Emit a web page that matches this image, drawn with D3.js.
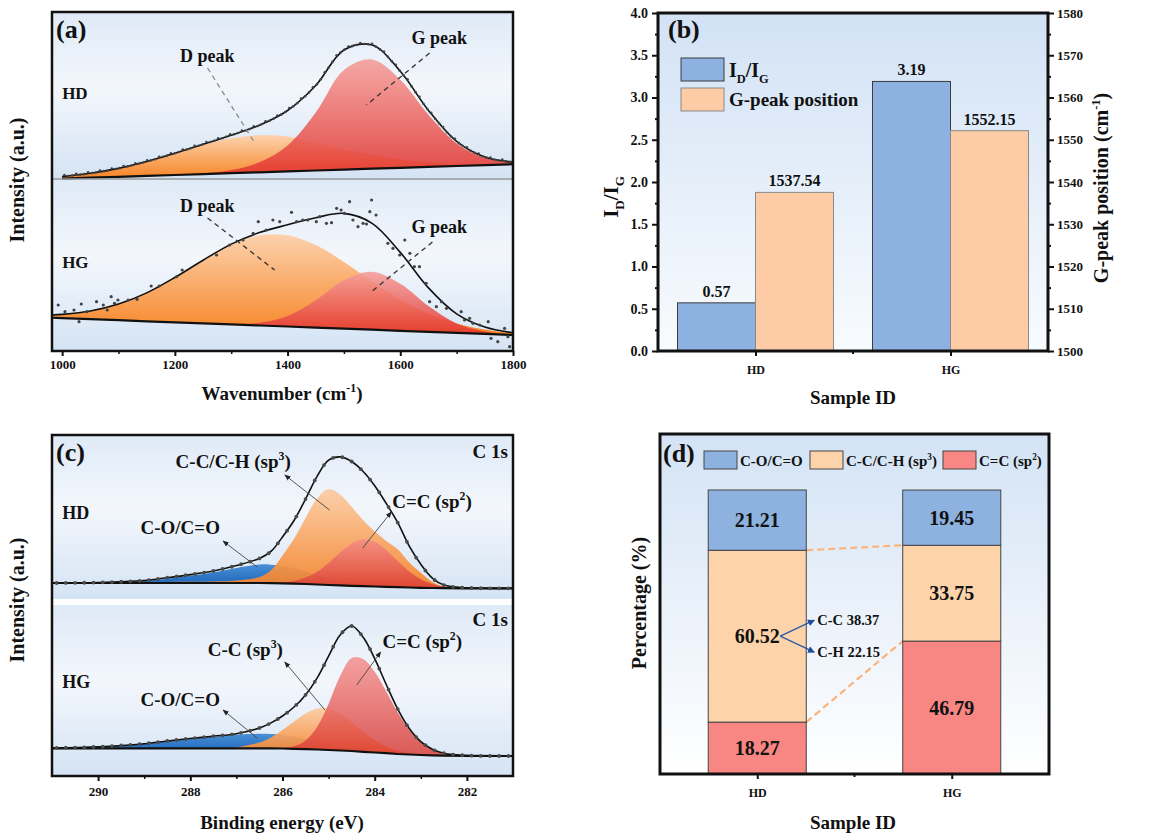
<!DOCTYPE html>
<html>
<head>
<meta charset="utf-8">
<title>Raman and XPS of HD / HG</title>
<script src="https://cdn.jsdelivr.net/npm/d3@7/dist/d3.min.js"></script>
<style>
    body { margin: 0; background: #ffffff; }
    svg text { font-family: 'Liberation Serif', 'Times New Roman', Times, 'DejaVu Serif', serif; }
</style>
</head>
<body>
<div id="figure"></div>
<script>
var fullWidth = 1161;
var fullHeight = 833;
var mainFont = "'Liberation Serif', 'Times New Roman', Times, 'DejaVu Serif', serif";
var inkColor = '#111111';

// ---- (a) Raman, intensity (a.u.) measured up from the bottom of each strip
var ramanWn = [980, 1000, 1050, 1100, 1150, 1200, 1250, 1300, 1350, 1400, 1450, 1500, 1550, 1600, 1650, 1700, 1750, 1800];
var hdRamanBase = [null, 0.4, 1.3, 2.2, 3.1, 4.0, 4.9, 5.8, 6.7, 7.6, 8.5, 9.4, 10.3, 11.2, 12.1, 13.0, 13.9, 14.8];
var hdRamanD = [null, 2.0, 4.4, 8.4, 14.3, 21.7, 29.2, 34.9, 37.0, 34.9, 27.0, 20.0, 14.3, 8.4, 4.4, 2.0, 0.8, 0.3];
var hdRamanG = [null, 0, 0, 0, 0, 0.1, 0.6, 3.1, 10.0, 26.0, 58.0, 99.6, 109.3, 88.1, 52.1, 22.6, 7.2, 1.7];
var hgRamanBase = [33.3, 32.9, 31.8, 30.8, 29.7, 28.7, 27.6, 26.6, 25.5, 24.5, 23.4, 22.3, 21.3, 20.2, 19.2, 18.1, 17.1, 16.0];
var hgRamanD = [2.6, 3.7, 8.2, 16.1, 28.4, 44.8, 63.2, 79.8, 90.2, 91.2, 82.5, 66.8, 48.4, 31.4, 18.2, 9.5, 4.4, 1.8];
var hgRamanG = [0, 0, 0, 0, 0, 0, 0, 0.5, 2.7, 10.5, 27.4, 48.5, 58.0, 47.0, 25.7, 9.5, 2.4, 0.4];
// measured HG points (wavenumber, intensity)
var hgRamanPts = [
    [993, 46], [1005, 39.3], [1021, 41], [1030, 29.3], [1034, 47], [1044, 39.3], [1061, 49.3],
    [1073, 46], [1080, 41], [1087, 54.3], [1093, 47.7], [1099, 51], [1117, 51], [1133, 51.7],
    [1158, 65], [1172, 65], [1203, 74.3], [1213, 81], [1274, 96], [1297, 106], [1321, 111],
    [1339, 117.7], [1348, 129.3], [1362, 121], [1374, 131], [1386, 129.3], [1407, 138.7],
    [1416, 129.3], [1427, 131], [1436, 131], [1451, 129.3], [1457, 134.3], [1469, 127.7],
    [1478, 128.3], [1487, 142.7], [1495, 141], [1501, 137.7], [1510, 149.3], [1516, 131],
    [1525, 124.3], [1534, 127.7], [1540, 127], [1546, 139.3], [1549, 151], [1557, 136],
    [1578, 107.7], [1587, 102.7], [1599, 96], [1608, 111], [1617, 97.7], [1625, 84.3],
    [1634, 84.3], [1646, 67.7], [1652, 49.3], [1664, 44.3], [1673, 49.3], [1682, 42.7],
    [1708, 39.3], [1714, 31], [1723, 32.7], [1729, 27.7], [1741, 26], [1756, 29.3],
    [1761, 12.7], [1773, 9.3], [1785, 22.7], [1791, 14.3], [1794, 4.3]
];
var ramanTicks = [1000, 1200, 1400, 1600, 1800];
var ramanMinor = [1100, 1300, 1500, 1700];

// ---- (b) I_D/I_G and G-peak position
var samples = ['HD', 'HG'];
var idIgRatio = [0.57, 3.19];
var gPeakPos = [1537.54, 1552.15];
var ratioTicks = [0, 0.5, 1.0, 1.5, 2.0, 2.5, 3.0, 3.5, 4.0];
var posTicks = [1500, 1510, 1520, 1530, 1540, 1550, 1560, 1570, 1580];

// ---- (c) XPS C 1s, intensity (a.u.) measured up from the bottom of each strip
var xpsEv = [291, 290, 289, 288.5, 288, 287.5, 287, 286.5, 286.25, 286, 285.75, 285.5, 285.25, 285, 284.75, 284.5, 284.25, 284, 283.75, 283.5, 283.25, 283, 282.75, 282.5, 282, 281];
var hdXpsBase = [19, 19, 19, 19, 19, 19, 19, 19, 18.8, 18.6, 18.3, 18.0, 17.5, 17.0, 16.6, 16.2, 15.8, 15.5, 15.1, 14.8, 14.5, 14.2, 14.0, 13.8, 13.7, 13.7];
var hdXpsCO = [0, 0.3, 2.0, 4.3, 7.2, 10.5, 15.0, 18.5, 18.5, 17.5, 15.5, 12.5, 9.5, 6.8, 4.6, 3.0, 1.8, 1.0, 0.5, 0.2, 0.1, 0, 0, 0, 0, 0];
var hdXpsSp3 = [0, 0.2, 0.5, 1.0, 1.2, 1.5, 2.5, 6.0, 13.0, 28.0, 45.0, 66.0, 86.0, 96.0, 91.0, 79.0, 66.0, 55.0, 46.0, 38.0, 25.0, 15.0, 6.0, 1.6, 0.4, 0];
var hdXpsSp2 = [0, 0, 0, 0, 0, 0, 0, 0.1, 0.3, 1.0, 2.7, 6.4, 12.7, 22.0, 32.9, 42.3, 46.9, 44.8, 37.0, 26.3, 16.2, 8.5, 3.9, 1.5, 0.1, 0];
var hgXpsBase = [27.7, 27.7, 27.7, 27.7, 27.7, 27.7, 27.7, 27.7, 27.6, 27.5, 27.2, 26.9, 26.5, 26.0, 25.5, 25.0, 24.2, 23.5, 22.8, 22.0, 21.5, 21.0, 20.7, 20.4, 20.2, 20.0];
var hgXpsCO = [0.3, 1.5, 4.5, 7.0, 9.3, 11.5, 13.5, 14.5, 14.3, 13.5, 12.0, 10.0, 8.0, 6.0, 4.2, 2.8, 1.7, 1.0, 0.5, 0.3, 0.1, 0, 0, 0, 0, 0];
var hgXpsSp3 = [0, 0, 0.1, 0.3, 0.5, 0.6, 1.1, 5.7, 10.9, 18.4, 27.3, 35.7, 41.0, 41.6, 37.0, 29.1, 20.1, 12.2, 6.5, 3.1, 1.3, 0.5, 0.2, 0, 0, 0];
var hgXpsSp2 = [0, 0, 0, 0, 0, 0, 0, 0.1, 0.3, 0.6, 2.5, 8.5, 22.4, 46.2, 74.4, 93.1, 92.8, 80.7, 61.7, 41.5, 24.6, 12.9, 5.9, 2.4, 0.3, 0];
var xpsTicks = [290, 288, 286, 284, 282];
var xpsMinor = [289, 287, 285, 283];

// ---- (d) bond fractions (%), bottom to top: C=C, C-C/C-H, C-O/C=O
var hdBonds = [18.27, 60.52, 21.21];
var hgBonds = [46.79, 33.75, 19.45];
var hdSp3Split = [['C-C', 38.37], ['C-H', 22.15]];

var blueBar = '#8db1e0';
var peachBar = '#fdcba6';
var bondColors = ['#f88783', '#fdd3a9', '#8eb2e0'];

window.onload = function() {
    render();
};

function px(v) {
    return v + 'px';
}

function render() {
    var svg = d3.select('#figure').append('svg')
        .attr('width', fullWidth)
        .attr('height', fullHeight)
        .style('display', 'block')
        .style('background', '#ffffff');

    var defs = svg.append('defs');
    makeGradient(defs, 'stripBg', [[0, '#dfeaf7'], [0.45, '#f3f7fc'], [1, '#d4e3f4']]);
    makeGradient(defs, 'barBg', [[0, '#d2e2f5'], [1, '#f8fbfe']]);
    makeGradient(defs, 'stackBg', [[0, '#d3e3f5'], [0.6, '#eef4fb'], [1, '#ffffff']]);
    makeGradient(defs, 'dFill', [[0, '#fdd2ad'], [1, '#f68526']]);
    makeGradient(defs, 'gFill', [[0, '#f59d9a'], [1, '#e2322b']]);
    makeGradient(defs, 'coFill', [[0, '#4a8fd6'], [1, '#1560b6']]);
    makeGradient(defs, 'sp3Fill', [[0, '#fccca3'], [1, '#f68227']]);
    makeGradient(defs, 'sp2Fill', [[0, '#f38b88'], [1, '#da3630']]);

    var marker = defs.append('marker')
        .attr('id', 'thinHead')
        .attr('viewBox', '0 0 10 10')
        .attr('refX', 9).attr('refY', 5)
        .attr('markerWidth', 7).attr('markerHeight', 7)
        .attr('orient', 'auto');
    marker.append('path').attr('d', 'M0,1 L10,5 L0,9 Z').attr('fill', '#222');

    var blueHead = defs.append('marker')
        .attr('id', 'blueHead')
        .attr('viewBox', '0 0 10 10')
        .attr('refX', 9).attr('refY', 5)
        .attr('markerWidth', 7).attr('markerHeight', 7)
        .attr('markerUnits', 'userSpaceOnUse')
        .attr('orient', 'auto');
    blueHead.append('path').attr('d', 'M0,0 L10,5 L0,10 Z').attr('fill', '#1f4f9c');

    makeRaman(svg);
    makeRatioBars(svg);
    makeXps(svg);
    makeBondStack(svg);
}

function makeGradient(defs, id, stops) {
    var grad = defs.append('linearGradient')
        .attr('id', id)
        .attr('x1', 0).attr('y1', 0)
        .attr('x2', 0).attr('y2', 1);
    stops.forEach(function(s) {
        grad.append('stop').attr('offset', s[0]).attr('stop-color', s[1]);
    });
}

// bold serif text; parts = [[text, 'sup'|'sub'|undefined], ...]
function label(g, x, y, parts, size, anchor, color) {
    var t = g.append('text')
        .attr('x', x)
        .attr('y', y)
        .attr('font-family', mainFont)
        .style('font-family', mainFont)
        .style('font-weight', 'bold')
        .style('font-size', px(size))
        .style('fill', color || inkColor)
        .style('text-anchor', anchor || 'start');
    if (typeof parts === 'string') parts = [[parts]];
    var shift = 0;
    parts.forEach(function(p) {
        var want = p[1] === 'sup' ? -0.42 * size : (p[1] === 'sub' ? 0.3 * size : 0);
        var s = t.append('tspan').attr('dy', want - shift).text(p[0]);
        if (p[1]) s.style('font-size', px(size * 0.62));
        shift = want;
    });
    return t;
}

function vLabel(svg, x, y, parts, size) {
    var g = svg.append('g').attr('transform', 'translate(' + x + ',' + y + ') rotate(-90)');
    return label(g, 0, 0, parts, size, 'middle');
}

// fills, baseline and fit line of one stacked spectrum strip
function drawStrip(g, x, y, grid, base, comps, fills, opac) {
    var rows = grid.map(function(v, j) {
        var total = base[j];
        comps.forEach(function(c) { total += c[j]; });
        return {v: v, base: base[j], comps: comps.map(function(c) { return c[j]; }), fit: total};
    });
    var ok = function(d) { return d.base != null; };

    comps.forEach(function(c, i) {
        var area = d3.area()
            .defined(ok)
            .curve(d3.curveCatmullRom)
            .x(function(d) { return x(d.v); })
            .y0(function(d) { return y(d.base); })
            .y1(function(d) { return y(d.base + d.comps[i]); });
        g.append('path')
            .datum(rows)
            .attr('d', area)
            .attr('fill', 'url(#' + fills[i] + ')')
            .attr('fill-opacity', opac[i]);
    });

    var baseLine = d3.line()
        .defined(ok)
        .x(function(d) { return x(d.v); })
        .y(function(d) { return y(d.base); });
    g.append('path')
        .datum(rows)
        .attr('d', baseLine)
        .attr('fill', 'none')
        .attr('stroke', '#111')
        .attr('stroke-width', 2.2);

    var fitLine = d3.line()
        .defined(ok)
        .curve(d3.curveCatmullRom)
        .x(function(d) { return x(d.v); })
        .y(function(d) { return y(d.fit); });
    var fit = g.append('path')
        .datum(rows)
        .attr('d', fitLine)
        .attr('fill', 'none')
        .attr('stroke', '#111')
        .attr('stroke-width', 1.6);
    return fit.node();
}

// points of a path (monotone in x) at the given pixel x positions
function pointsAtX(node, xs) {
    var total = node.getTotalLength();
    return xs.map(function(px0) {
        var lo = 0, hi = total;
        for (var k = 0; k < 28; k++) {
            var mid = (lo + hi) / 2;
            if (node.getPointAtLength(mid).x < px0) lo = mid; else hi = mid;
        }
        return node.getPointAtLength(lo);
    });
}

function dashedNote(g, x, y, a, b, color) {
    g.append('line')
        .attr('x1', x(a[0])).attr('y1', y(a[1]))
        .attr('x2', x(b[0])).attr('y2', y(b[1]))
        .attr('stroke', color)
        .attr('stroke-width', 1.3)
        .attr('stroke-dasharray', '5,4');
}

function arrowNote(g, x, y, tail, head) {
    g.append('line')
        .attr('x1', x(tail[0])).attr('y1', y(tail[1]))
        .attr('x2', x(head[0])).attr('y2', y(head[1]))
        .attr('stroke', '#444')
        .attr('stroke-width', 0.9)
        .attr('marker-end', 'url(#thinHead)');
}

function makeRaman(svg) {
    var left = 52, right = 513, top = 12, mid = 179, bottom = 351;
    var x = d3.scaleLinear().domain([982, 1800]).range([left, right]);
    var yHD = d3.scaleLinear().domain([0, 167]).range([mid, top]);
    var yHG = d3.scaleLinear().domain([0, 172]).range([bottom, mid]);

    svg.append('clipPath').attr('id', 'clipA')
        .append('rect').attr('x', left).attr('y', top).attr('width', right - left).attr('height', bottom - top);
    var g = svg.append('g').attr('clip-path', 'url(#clipA)');

    g.append('rect').attr('x', left).attr('y', top).attr('width', right - left).attr('height', mid - top)
        .attr('fill', 'url(#stripBg)');
    g.append('rect').attr('x', left).attr('y', mid).attr('width', right - left).attr('height', bottom - mid)
        .attr('fill', 'url(#stripBg)');

    // HD strip
    var hdFit = drawStrip(g, x, yHD, ramanWn, hdRamanBase, [hdRamanD, hdRamanG], ['dFill', 'gFill'], [1, 0.88]);
    var hdXs = d3.range(1004, 1800, 7).map(x);
    pointsAtX(hdFit, hdXs).forEach(function(p, i) {
        g.append('circle')
            .attr('cx', p.x)
            .attr('cy', p.y - (i % 3 === 0 ? 1.2 : 0))
            .attr('r', 1.3)
            .attr('fill', '#444');
    });

    // HG strip
    drawStrip(g, x, yHG, ramanWn, hgRamanBase, [hgRamanD, hgRamanG], ['dFill', 'gFill'], [1, 0.88]);
    hgRamanPts.forEach(function(p) {
        g.append('circle')
            .attr('cx', x(p[0]))
            .attr('cy', yHG(p[1]))
            .attr('r', 1.6)
            .attr('fill', '#444');
    });

    // strip divider
    svg.append('line')
        .attr('x1', left).attr('x2', right).attr('y1', mid).attr('y2', mid)
        .attr('stroke', '#9a9a9a').attr('stroke-width', 1.5);

    // peak annotations
    dashedNote(svg, x, yHD, [1258, 111], [1343, 35], '#8a8a8a');
    dashedNote(svg, x, yHD, [1652, 126], [1540, 74], '#333');
    dashedNote(svg, x, yHG, [1258, 133], [1377, 81], '#333');
    dashedNote(svg, x, yHG, [1657, 109], [1546, 58], '#333');
    label(svg, x(1209), yHD(117), 'D peak', 18);
    label(svg, x(1620), yHD(135), 'G peak', 18);
    label(svg, x(1209), yHG(139), 'D peak', 18);
    label(svg, x(1620), yHG(118), 'G peak', 18);
    label(svg, x(1000), yHD(80), 'HD', 17);
    label(svg, x(1000), yHG(83), 'HG', 17);
    label(svg, 56, 38, '(a)', 26);

    // frame and axis
    svg.append('rect')
        .attr('x', left).attr('y', top).attr('width', right - left).attr('height', bottom - top)
        .attr('fill', 'none').attr('stroke', '#111').attr('stroke-width', 2.5);
    bottomAxis(svg, x, bottom, ramanTicks, ramanMinor, 4, 13, d3.format('d'));

    label(svg, 282, 400, [['Wavenumber (cm'], ['-1', 'sup'], [')']], 19, 'middle');
    vLabel(svg, 24, 180, 'Intensity (a.u.)', 20);
}

function bottomAxis(svg, x, yPos, ticks, minor, pad, size, fmt) {
    var ax = svg.append('g')
        .attr('transform', 'translate(0,' + yPos + ')')
        .call(d3.axisBottom(x).tickValues(ticks).tickSize(5).tickPadding(pad).tickFormat(fmt));
    ax.select('.domain').remove();
    ax.selectAll('line').attr('stroke', '#111').attr('stroke-width', 2);
    ax.selectAll('text')
        .attr('font-family', mainFont)
        .style('font-family', mainFont)
        .style('font-weight', 'bold')
        .style('font-size', px(size))
        .style('fill', inkColor);
    if (minor) {
        var mx = svg.append('g')
            .attr('transform', 'translate(0,' + yPos + ')')
            .call(d3.axisBottom(x).tickValues(minor).tickSize(3).tickFormat(''));
        mx.select('.domain').remove();
        mx.selectAll('line').attr('stroke', '#111').attr('stroke-width', 1.5);
    }
}

function makeRatioBars(svg) {
    var left = 658, right = 1048, top = 13, bottom = 351;
    var x = d3.scaleBand().domain(samples).range([left, right]).paddingInner(0.2).paddingOuter(0.1);
    var sub = d3.scaleBand().domain(['ratio', 'pos']).range([0, x.bandwidth()]);
    var yL = d3.scaleLinear().domain([0, 4]).range([bottom, top]);
    var yR = d3.scaleLinear().domain([1500, 1580]).range([bottom, top]);

    svg.append('rect')
        .attr('x', left).attr('y', top).attr('width', right - left).attr('height', bottom - top)
        .attr('fill', 'url(#barBg)');

    samples.forEach(function(s, i) {
        var x0 = x(s);
        svg.append('rect')
            .attr('x', x0 + sub('ratio')).attr('y', yL(idIgRatio[i]))
            .attr('width', sub.bandwidth()).attr('height', bottom - yL(idIgRatio[i]))
            .attr('fill', blueBar).attr('stroke', '#3c3c3c').attr('stroke-width', 1);
        svg.append('rect')
            .attr('x', x0 + sub('pos')).attr('y', yR(gPeakPos[i]))
            .attr('width', sub.bandwidth()).attr('height', bottom - yR(gPeakPos[i]))
            .attr('fill', peachBar).attr('stroke', '#8a8a8a').attr('stroke-width', 1);
        label(svg, x0 + sub('ratio') + sub.bandwidth() / 2, yL(idIgRatio[i]) - 6,
            idIgRatio[i].toFixed(2), 16, 'middle');
        label(svg, x0 + sub('pos') + sub.bandwidth() / 2, yR(gPeakPos[i]) - 6,
            gPeakPos[i].toFixed(2), 16, 'middle');
    });

    // legend
    var lx = 681;
    svg.append('rect').attr('x', lx).attr('y', 58).attr('width', 43).attr('height', 23)
        .attr('fill', blueBar).attr('stroke', '#3c3c3c').attr('stroke-width', 1);
    svg.append('rect').attr('x', lx).attr('y', 88).attr('width', 43).attr('height', 23)
        .attr('fill', peachBar).attr('stroke', '#8a8a8a').attr('stroke-width', 1);
    label(svg, 729, 77, [['I'], ['D', 'sub'], ['/I'], ['G', 'sub']], 20);
    label(svg, 729, 106, 'G-peak position', 19);
    label(svg, 668, 38, '(b)', 26);

    // axes
    var axL = svg.append('g').attr('transform', 'translate(' + left + ',0)')
        .call(d3.axisLeft(yL).tickValues(ratioTicks).tickSize(6).tickPadding(4).tickFormat(d3.format('.1f')));
    var axLm = svg.append('g').attr('transform', 'translate(' + left + ',0)')
        .call(d3.axisLeft(yL).tickValues(ratioTicks.slice(1).map(function(v) { return v - 0.25; }))
            .tickSize(3).tickFormat(''));
    var axR = svg.append('g').attr('transform', 'translate(' + right + ',0)')
        .call(d3.axisRight(yR).tickValues(posTicks).tickSize(6).tickPadding(3).tickFormat(d3.format('d')));
    var axRm = svg.append('g').attr('transform', 'translate(' + right + ',0)')
        .call(d3.axisRight(yR).tickValues(posTicks.slice(1).map(function(v) { return v - 5; }))
            .tickSize(3).tickFormat(''));
    [axL, axLm, axR, axRm].forEach(function(ax) {
        ax.select('.domain').remove();
        ax.selectAll('line').attr('stroke', '#111').attr('stroke-width', 2);
        ax.selectAll('text')
            .attr('font-family', mainFont)
            .style('font-family', mainFont)
            .style('font-weight', 'bold')
            .style('font-size', px(13))
            .style('fill', inkColor);
    });
    axL.selectAll('text').style('font-size', px(14));

    var centers = d3.scalePoint().domain(samples).range([x('HD') + x.bandwidth() / 2, x('HG') + x.bandwidth() / 2]);
    bottomAxis(svg, centers, bottom, samples, null, 9, 12, function(d) { return d; });
    svg.append('line')
        .attr('x1', (left + right) / 2).attr('x2', (left + right) / 2)
        .attr('y1', bottom).attr('y2', bottom + 3)
        .attr('stroke', '#111').attr('stroke-width', 2);

    // frame
    svg.append('path')
        .attr('d', 'M' + left + ',' + bottom + 'V' + top + 'H' + right + 'V' + bottom + 'Z')
        .attr('fill', 'none').attr('stroke', '#111').attr('stroke-width', 3);

    label(svg, 853, 404, 'Sample ID', 19, 'middle');
    vLabel(svg, 618, 197, [['I'], ['D', 'sub'], ['/I'], ['G', 'sub']], 21);
    vLabel(svg, 1108, 188, [['G-peak position (cm'], ['-1', 'sup'], [')']], 20);
}

function makeXps(svg) {
    var left = 52, right = 513, top = 435, mid = 602, bottom = 776;
    var x = d3.scaleLinear().domain([291, 281]).range([left, right]);
    var yHD = d3.scaleLinear().domain([0, 167]).range([mid, top]);
    var yHG = d3.scaleLinear().domain([0, 174]).range([bottom, mid]);

    svg.append('clipPath').attr('id', 'clipC')
        .append('rect').attr('x', left).attr('y', top).attr('width', right - left).attr('height', bottom - top);
    var g = svg.append('g').attr('clip-path', 'url(#clipC)');

    g.append('rect').attr('x', left).attr('y', top).attr('width', right - left).attr('height', mid - 3 - top)
        .attr('fill', 'url(#stripBg)');
    g.append('rect').attr('x', left).attr('y', mid + 3).attr('width', right - left).attr('height', bottom - mid - 3)
        .attr('fill', 'url(#stripBg)');

    var fills = ['coFill', 'sp3Fill', 'sp2Fill'];
    var opac = [1, 0.92, 0.8];
    var dotXs = d3.range(290.9, 281, -0.2).map(x);

    var hdFit = drawStrip(g, x, yHD, xpsEv, hdXpsBase, [hdXpsCO, hdXpsSp3, hdXpsSp2], fills, opac);
    var hgFit = drawStrip(g, x, yHG, xpsEv, hgXpsBase, [hgXpsCO, hgXpsSp3, hgXpsSp2], fills, opac);
    [hdFit, hgFit].forEach(function(node) {
        pointsAtX(node, dotXs).forEach(function(p) {
            g.append('circle')
                .attr('cx', p.x).attr('cy', p.y)
                .attr('r', 1.9)
                .attr('fill', '#4a4a4a');
        });
    });

    // component labels and arrows
    arrowNote(svg, x, yHD, [284.98, 92], [285.95, 127]);
    arrowNote(svg, x, yHD, [284.26, 54], [283.64, 90]);
    arrowNote(svg, x, yHD, [286.55, 35], [287.29, 61]);
    arrowNote(svg, x, yHG, [285.08, 66], [285.95, 114]);
    arrowNote(svg, x, yHG, [284.39, 91], [283.87, 124]);
    arrowNote(svg, x, yHG, [286.55, 38], [287.29, 66]);
    label(svg, x(287.07), yHD(134), [['C-C/C-H (sp'], ['3', 'sup'], [')']], 19, 'middle');
    label(svg, x(283.62), yHD(94), [['C=C (sp'], ['2', 'sup'], [')']], 19);
    label(svg, x(289.08), yHD(68), 'C-O/C=O', 19);
    label(svg, x(287.62), yHG(120), [['C-C (sp'], ['3', 'sup'], [')']], 19);
    label(svg, x(283.83), yHG(128), [['C=C (sp'], ['2', 'sup'], [')']], 19);
    label(svg, x(289.08), yHG(70), 'C-O/C=O', 19);
    label(svg, x(281.11), yHD(144), 'C 1s', 19, 'end');
    label(svg, x(281.11), yHG(150), 'C 1s', 19, 'end');
    label(svg, x(290.78), yHD(83), 'HD', 18);
    label(svg, x(290.78), yHG(88), 'HG', 18);
    label(svg, 56, 461, '(c)', 26);

    svg.append('rect')
        .attr('x', left).attr('y', top).attr('width', right - left).attr('height', bottom - top)
        .attr('fill', 'none').attr('stroke', '#111').attr('stroke-width', 2.5);
    bottomAxis(svg, x, bottom, xpsTicks, xpsMinor, 6, 13, d3.format('d'));

    label(svg, 282, 829, 'Binding energy (eV)', 19, 'middle');
    vLabel(svg, 24, 600, 'Intensity (a.u.)', 20);
}

function makeBondStack(svg) {
    var left = 660, right = 1049, top = 434, bottom = 774;
    var x = d3.scaleBand().domain(samples).range([left, right]).paddingInner(0.496).paddingOuter(0.248);
    var y = d3.scaleLinear().domain([0, 100]).range([bottom, 490]);

    svg.append('rect')
        .attr('x', left).attr('y', top).attr('width', right - left).attr('height', bottom - top)
        .attr('fill', 'url(#stackBg)');

    var stacks = [hdBonds, hgBonds];
    var edges = stacks.map(function(vals) {
        var acc = [0];
        vals.forEach(function(v) { acc.push(acc[acc.length - 1] + v); });
        return acc;
    });

    // dashed connectors between matching boundaries
    [1, 2].forEach(function(k) {
        svg.append('line')
            .attr('x1', x('HD') + x.bandwidth()).attr('y1', y(edges[0][k]))
            .attr('x2', x('HG')).attr('y2', y(edges[1][k]))
            .attr('stroke', '#fab47c')
            .attr('stroke-width', 2.2)
            .attr('stroke-dasharray', '7,4');
    });

    samples.forEach(function(s, i) {
        stacks[i].forEach(function(v, k) {
            var y0 = y(edges[i][k]);
            var y1 = y(edges[i][k + 1]);
            svg.append('rect')
                .attr('x', x(s)).attr('y', y1)
                .attr('width', x.bandwidth()).attr('height', y0 - y1)
                .attr('fill', bondColors[k])
                .attr('stroke', '#444')
                .attr('stroke-width', 1);
            label(svg, x(s) + x.bandwidth() / 2, (y0 + y1) / 2 + 7, v.toFixed(2), 20, 'middle');
        });
    });

    // split of the sp3 share for HD
    var cx = x('HD') + x.bandwidth() / 2;
    var cy = (y(edges[0][1]) + y(edges[0][2])) / 2;
    hdSp3Split.forEach(function(p, j) {
        var ty = cy + (j === 0 ? -16 : 16);
        svg.append('line')
            .attr('x1', cx + 23).attr('y1', cy)
            .attr('x2', x('HD') + x.bandwidth() + 8).attr('y2', ty)
            .attr('stroke', '#2a5aa5')
            .attr('stroke-width', 1.3)
            .attr('marker-end', 'url(#blueHead)');
        label(svg, x('HD') + x.bandwidth() + 11, ty + 5, p[0] + ' ' + p[1].toFixed(2), 14.5);
    });

    // legend
    var legendItems = [
        {x: 704, parts: 'C-O/C=O', color: bondColors[2]},
        {x: 810, parts: [['C-C/C-H (sp'], ['3', 'sup'], [')']], color: bondColors[1]},
        {x: 943, parts: [['C=C (sp'], ['2', 'sup'], [')']], color: bondColors[0]}
    ];
    legendItems.forEach(function(it) {
        svg.append('rect')
            .attr('x', it.x).attr('y', 451).attr('width', 33).attr('height', 18)
            .attr('fill', it.color).attr('stroke', '#444').attr('stroke-width', 1);
        label(svg, it.x + 36, 466, it.parts, 15);
    });
    label(svg, 663, 462, '(d)', 26);

    var centers = d3.scalePoint().domain(samples).range([x('HD') + x.bandwidth() / 2, x('HG') + x.bandwidth() / 2]);
    bottomAxis(svg, centers, bottom, samples, null, 9, 12, function(d) { return d; });
    svg.append('line')
        .attr('x1', (left + right) / 2).attr('x2', (left + right) / 2)
        .attr('y1', bottom).attr('y2', bottom + 3)
        .attr('stroke', '#111').attr('stroke-width', 2);

    svg.append('path')
        .attr('d', 'M' + left + ',' + bottom + 'V' + top + 'H' + right + 'V' + bottom + 'Z')
        .attr('fill', 'none').attr('stroke', '#111').attr('stroke-width', 3);

    label(svg, 853, 829, 'Sample ID', 19, 'middle');
    vLabel(svg, 646, 603, 'Percentage (%)', 20);
}
</script>
</body>
</html>
